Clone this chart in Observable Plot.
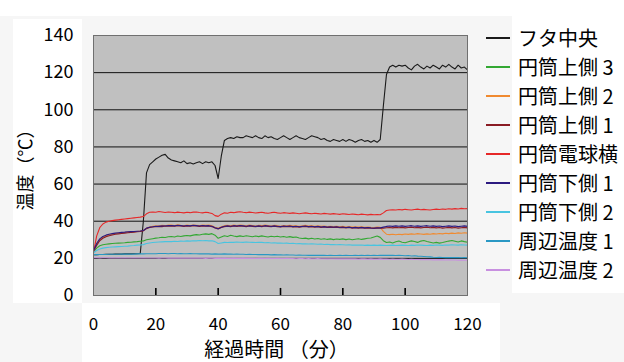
<!DOCTYPE html>
<html><head><meta charset="utf-8">
<script src="https://cdn.jsdelivr.net/npm/d3@7"></script>
<script src="https://cdn.jsdelivr.net/npm/@observablehq/plot@0.6"></script>
<style>
body{margin:0;background:#f6f6f6;width:624px;height:362px;overflow:hidden;position:relative;font-family:"Noto Sans CJK JP",sans-serif}
.panel{position:absolute;background:#fff}
#chart{position:absolute;left:0;top:0}
#legend{position:absolute;left:484px;top:23px}
.row{height:29px;display:flex;align-items:center;font-size:20px;color:#000;white-space:nowrap}
.sw{width:24px;height:2px;margin-left:2px}
.lab{margin-left:8px}
</style></head>
<body>
<div class="panel" style="left:0;top:0;width:624px;height:16px"></div>
<div class="panel" style="left:13px;top:19px;width:69px;height:284px"></div>
<div class="panel" style="left:82px;top:303px;width:418px;height:59px"></div>
<div class="panel" style="left:512px;top:16px;width:112px;height:277px"></div>
<div id="chart"></div>
<div id="legend"></div>
<script>
const seriesNames = ["フタ中央","円筒上側 3","円筒上側 2","円筒上側 1","円筒電球横","円筒下側 1","円筒下側 2","周辺温度 1","周辺温度 2"];
const seriesColors = ["#1a1a1a","#33a833","#f08a30","#8a1c24","#e62828","#2c1a80","#48c4e0","#2a98c4","#c890e0"];
const yTicks = [0,20,40,60,80,100,120,140];
const gridValues = [20,40,60,80,100,120];
const xTicks = [0,20,40,60,80,100,120];
const xLabel = "経過時間 （分）";
const yLabel = "温度（℃）";
const minutes = d3.range(0, 121);

const futa = [22.0,22.0,22.1,22.1,22.2,22.2,22.2,22.3,22.3,22.3,
22.4,22.4,22.4,22.5,22.5,22.6,40,66,70.5,72,
73.5,74.5,75.5,76,74,73,72.5,72,71.5,72.5,
71,71.5,70.8,71.5,72,71,72,71.5,72,70,
63,75,83.5,84.5,85,84.5,85.5,85,85,86,
85.5,85,86,85,84.5,86,85,85.5,84.5,84,
85,86,85,84,85,86,85,84.5,84,85,
86,85.5,85,84,84.5,83.5,83,84,83.5,83,
84,83,84,83.5,82.5,83.5,84,83,83.5,82.5,
83.5,82.5,84,102,119,123,124,123,124,123.5,
124,122.5,121.5,123.5,124.5,123,122,123.5,122.5,124,
123,122,124,123,124.5,123,122,124,122.5,123,
121.5];
const ue3 = [23.5,25.5,26.8,27.3,27.6,27.8,28,28.1,28.2,28.3,
28.4,28.6,28.7,28.9,29,29.2,29.4,30,30.3,30.6,
30.9,31.1,31.4,31.2,31.6,31.8,31.5,32,31.8,32.1,
32.3,32.1,32.5,32.8,32.6,33,33.2,32.9,33.3,32.5,
30.8,31.5,32.2,31.8,32.4,32,31.7,32.1,31.8,32.2,
31.9,31.6,32,31.7,32.1,31.8,31.5,31.9,31.6,31.9,
31.5,31.8,31.4,31.7,31.3,31.5,31,30.7,30.9,30.5,
30.8,30.4,30.7,30.3,30.6,30.2,30.5,30.1,30.4,30.2,
30.5,30.1,30.4,30,30.3,30.6,30.2,30.5,30.8,31,
31.5,32,31.3,29.5,28.5,28.8,28.3,28.9,29.3,28.7,
28.4,28.9,29.4,29.1,28.6,29.3,29.6,29.1,28.7,28.3,
28.6,28.2,28.5,28.9,29.3,29.6,29.2,28.8,29.4,29,
28.7];
const ue2 = [24,27.5,30,31.3,32,32.6,33,33.3,33.5,33.7,
33.9,34.1,34.2,34.4,34.5,34.7,35,36.3,36.9,37.3,
37.5,37.4,37.8,37.6,37.9,38,37.7,38.1,37.8,37.6,
37.9,37.7,38,37.8,37.6,38,37.8,37.9,37.5,36.7,
36.2,37,37.6,37.8,37.5,37.9,37.7,38,37.8,37.5,
37.9,37.7,37.4,37.8,37.6,38,37.7,37.4,37.8,37.6,
37.3,37.7,37.5,37.8,37.4,37.6,37.3,37.5,37.8,37.4,
37.6,37.3,37.5,37.2,37.4,37.1,37.3,37.1,37.3,37,
37.2,36.9,37.1,36.8,37,36.8,37,36.7,36.9,36.7,
36.6,36.8,36.7,34.5,33,32.8,33,32.7,33,32.8,
33.1,32.9,33.2,33,33.3,33.1,32.9,33.2,33,33.3,
33.1,33.4,33.2,33.5,33.3,33.6,33.4,33.7,33.5,33.8,
33.6];
const ue1 = [24,27,29.5,30.8,31.6,32.2,32.6,33,33.2,33.4,
33.6,33.8,34,34.1,34.3,34.5,34.8,36,36.6,36.9,
37,37.2,37.1,37.4,37.3,37.5,37.3,37.6,37.4,37.2,
37.5,37.3,37.6,37.4,37.2,37.5,37.3,37.4,37.1,36.3,
35.8,36.6,37.1,37.3,37.1,37.4,37.2,37.5,37.3,37.1,
37.4,37.2,37,37.3,37.1,37.4,37.2,37,37.3,37.1,
36.9,37.2,37,37.2,36.9,37.1,36.8,37,37.2,36.9,
37.1,36.8,37,36.7,36.9,36.6,36.8,36.6,36.8,36.5,
36.7,36.4,36.6,36.3,36.5,36.3,36.5,36.2,36.4,36.2,
36.1,36.3,36.2,36.3,36.5,36.6,36.4,36.7,36.5,36.7,
36.4,36.6,36.8,36.5,36.7,36.4,36.6,36.8,36.5,36.7,
36.4,36.6,36.3,36.5,36.7,36.4,36.6,36.3,36.5,36.7,
36.4];
const denkyu = [23,32,36.5,38.5,39.5,40,40.3,40.6,40.8,41,
41.2,41.4,41.6,41.8,42,42.2,42.5,44,44.8,45,
44.8,45.2,45,44.7,45,44.8,44.6,44.9,44.7,44.5,
44.8,44.6,44.9,45,44.7,44.5,44.8,44.6,44.2,43,
42.6,43.8,44.5,44.3,44.8,44.6,44.9,45.1,44.8,44.6,
44.9,44.7,44.4,44.6,44.8,44.5,44.3,44.6,44.8,44.5,
44.3,44.6,44.4,44.2,44.5,44.3,44,44.3,44.5,44.2,
44,44.3,44.1,43.9,44.2,44,43.8,44.1,43.9,43.7,
44,43.8,43.6,43.9,43.7,43.5,43.8,43.6,43.4,43.7,
43.5,43.6,43.5,44.5,45.8,46,46.2,46,46.3,46.1,
46.4,46.2,46,46.3,46.5,46.2,46.4,46.2,46,46.3,
46.5,46.3,46.6,46.4,46.7,46.5,46.8,46.6,46.9,46.7,
46.8];
const shita1 = [24,28,30.5,31.8,32.5,33,33.3,33.6,33.8,34,
34.1,34.3,34.4,34.5,34.6,34.7,35,36.3,36.8,37,
37.3,37.2,37.5,37.4,37.6,37.7,37.5,37.8,37.6,37.4,
37.7,37.5,37.8,37.6,37.4,37.7,37.5,37.6,37.3,36.5,
36,36.8,37.3,37.5,37.3,37.6,37.4,37.7,37.5,37.3,
37.6,37.4,37.2,37.5,37.3,37.6,37.4,37.2,37.5,37.3,
37.1,37.4,37.2,37.4,37.1,37.3,37,37.2,37.4,37.1,
37.3,37,37.2,36.9,37.1,36.8,37,36.8,37,36.7,
36.9,36.6,36.8,36.5,36.7,36.5,36.7,36.4,36.6,36.4,
36.3,36.5,36.4,36.8,37.2,37.4,37.2,37.5,37.3,37.5,
37.2,37.4,37.6,37.3,37.5,37.2,37.4,37.6,37.3,37.5,
37.2,37.4,37.1,37.3,37.5,37.2,37.4,37.1,37.3,37.5,
37.2];
const shita2 = [23,24.2,25,25.5,25.8,26,26.1,26.2,26.3,26.4,
26.5,26.6,26.8,26.9,27.1,27.2,27.4,28,28.3,28.5,
28.7,28.8,28.9,29,29.1,29,29.2,29.1,29.3,29.2,
29.4,29.3,29.5,29.4,29.6,29.5,29.6,29.4,29.5,29,
28,28.3,28.6,28.5,28.7,28.6,28.8,28.7,28.6,28.8,
28.7,28.6,28.5,28.7,28.6,28.4,28.5,28.3,28.4,28.2,
28.3,28.1,28.2,28,28.1,27.9,28,27.8,27.9,27.7,
27.8,27.7,27.6,27.7,27.5,27.6,27.4,27.5,27.3,27.4,
27.3,27.2,27.3,27.1,27.2,27.1,27.2,27,27.1,27,
27.1,27,27.1,27,26.9,27,27.1,26.9,27,27.1,
27,26.9,27.1,27,27.2,27.1,27,26.9,27.1,27,
27.2,27.1,27,27.2,27.1,27.3,27.2,27.1,27.3,27.2,
27.1];
const shuhen1 = [22,22,22.1,22.1,22.1,22.2,22.2,22.2,22.2,22.3,
22.3,22.3,22.3,22.3,22.4,22.4,22.4,22.5,22.5,22.5,
22.5,22.6,22.6,22.6,22.5,22.6,22.6,22.5,22.6,22.5,
22.5,22.6,22.5,22.5,22.4,22.5,22.4,22.4,22.3,22.4,
22.3,22.3,22.4,22.3,22.3,22.2,22.3,22.2,22.2,22.1,
22.2,22.1,22.1,22,22.1,22,22,21.9,22,21.9,
21.9,21.8,21.9,21.8,21.8,21.7,21.8,21.7,21.7,21.6,
21.7,21.6,21.6,21.7,21.6,21.5,21.6,21.5,21.5,21.6,
21.5,21.6,21.5,21.5,21.6,21.5,21.6,21.5,21.6,21.5,
21.6,21.5,21.6,21.7,21.6,21.7,21.6,21.5,21.6,21.5,
21.4,21.5,21.3,21.4,21.2,21.1,21,20.9,20.8,20.6,
20.5,20.6,20.5,20.4,20.5,20.4,20.5,20.4,20.3,20.4,
20.3];
const shuhen2 = [20.3,20.3,20.2,20.3,20.3,20.2,20.3,20.2,20.3,20.2,
20.3,20.2,20.2,20.3,20.2,20.2,20.3,20.2,20.2,20.2,
20.2,20.1,20.2,20.2,20.1,20.2,20.1,20.2,20.1,20.1,
20.2,20.1,20.1,20.2,20.1,20.1,20,20.1,20.1,20,
20.1,20,20.1,20,20,20.1,20,20,20.1,20,
20,20,19.9,20,20,19.9,20,19.9,19.9,20,
19.9,19.9,20,19.9,19.9,19.8,19.9,19.9,19.8,19.9,
19.8,19.8,19.9,19.8,19.8,19.7,19.8,19.8,19.7,19.8,
19.7,19.7,19.8,19.7,19.7,19.6,19.7,19.7,19.6,19.7,
19.6,19.6,19.7,19.6,19.6,19.5,19.6,19.5,19.5,19.6,
19.5,19.4,19.5,19.4,19.4,19.3,19.4,19.3,19.3,19.2,
19.2,19.3,19.2,19.1,19.2,19.1,19.1,19,19.1,19,
19];

const seriesValues = [futa, ue3, ue2, ue1, denkyu, shita1, shita2, shuhen1, shuhen2];
const rows = [];
seriesNames.forEach((name, i) => seriesValues[i].forEach((v, j) => rows.push({series: name, t: minutes[j], v})));

// inward x tick marks: short rules from the baseline up (length in °C ≈ 7px)
const tickLen = 3.8;

const chart = Plot.plot({
  width: 624, height: 362,
  marginTop: 35, marginLeft: 93, marginRight: 157, marginBottom: 67,
  style: {background: "transparent", fontFamily: "'Noto Sans CJK JP', sans-serif", color: "#000", overflow: "visible"},
  x: {domain: [0, 120]},
  y: {domain: [0, 140]},
  color: {domain: seriesNames, range: seriesColors},
  marks: [
    Plot.frame({fill: "#c0c0c0"}),
    Plot.ruleY(gridValues, {stroke: "#111", strokeWidth: 1}),
    Plot.line(rows, {x: "t", y: "v", z: "series", stroke: "series", strokeWidth: 1.1}),
    Plot.frame({stroke: "#707070", strokeWidth: 1}),
    Plot.ruleX(xTicks.slice(1, -1), {x: d => d, y1: () => 0, y2: () => tickLen, stroke: "#000", strokeWidth: 1.6}),
    Plot.axisY(yTicks, {tickSize: 0, tickPadding: 20, fontSize: 18, label: null}),
    Plot.axisX(xTicks, {tickSize: 0, tickPadding: 22, fontSize: 17, label: null, style: "letter-spacing:4.5px"}),
    Plot.text([xLabel], {frameAnchor: "bottom", dy: 55, dx: -4, fontSize: 20, textAnchor: "middle", lineAnchor: "middle"}),
    Plot.text([yLabel], {frameAnchor: "left", dx: -67, rotate: -90, fontSize: 18, textAnchor: "middle", lineAnchor: "middle"})
  ]
});
document.getElementById("chart").appendChild(chart);

const legend = document.getElementById("legend");
seriesNames.forEach((name, i) => {
  const row = document.createElement("div");
  row.className = "row";
  const sw = document.createElement("div");
  sw.className = "sw";
  sw.style.background = seriesColors[i];
  const lab = document.createElement("span");
  lab.className = "lab";
  lab.textContent = name;
  row.appendChild(sw); row.appendChild(lab);
  legend.appendChild(row);
});
</script>
</body></html>
